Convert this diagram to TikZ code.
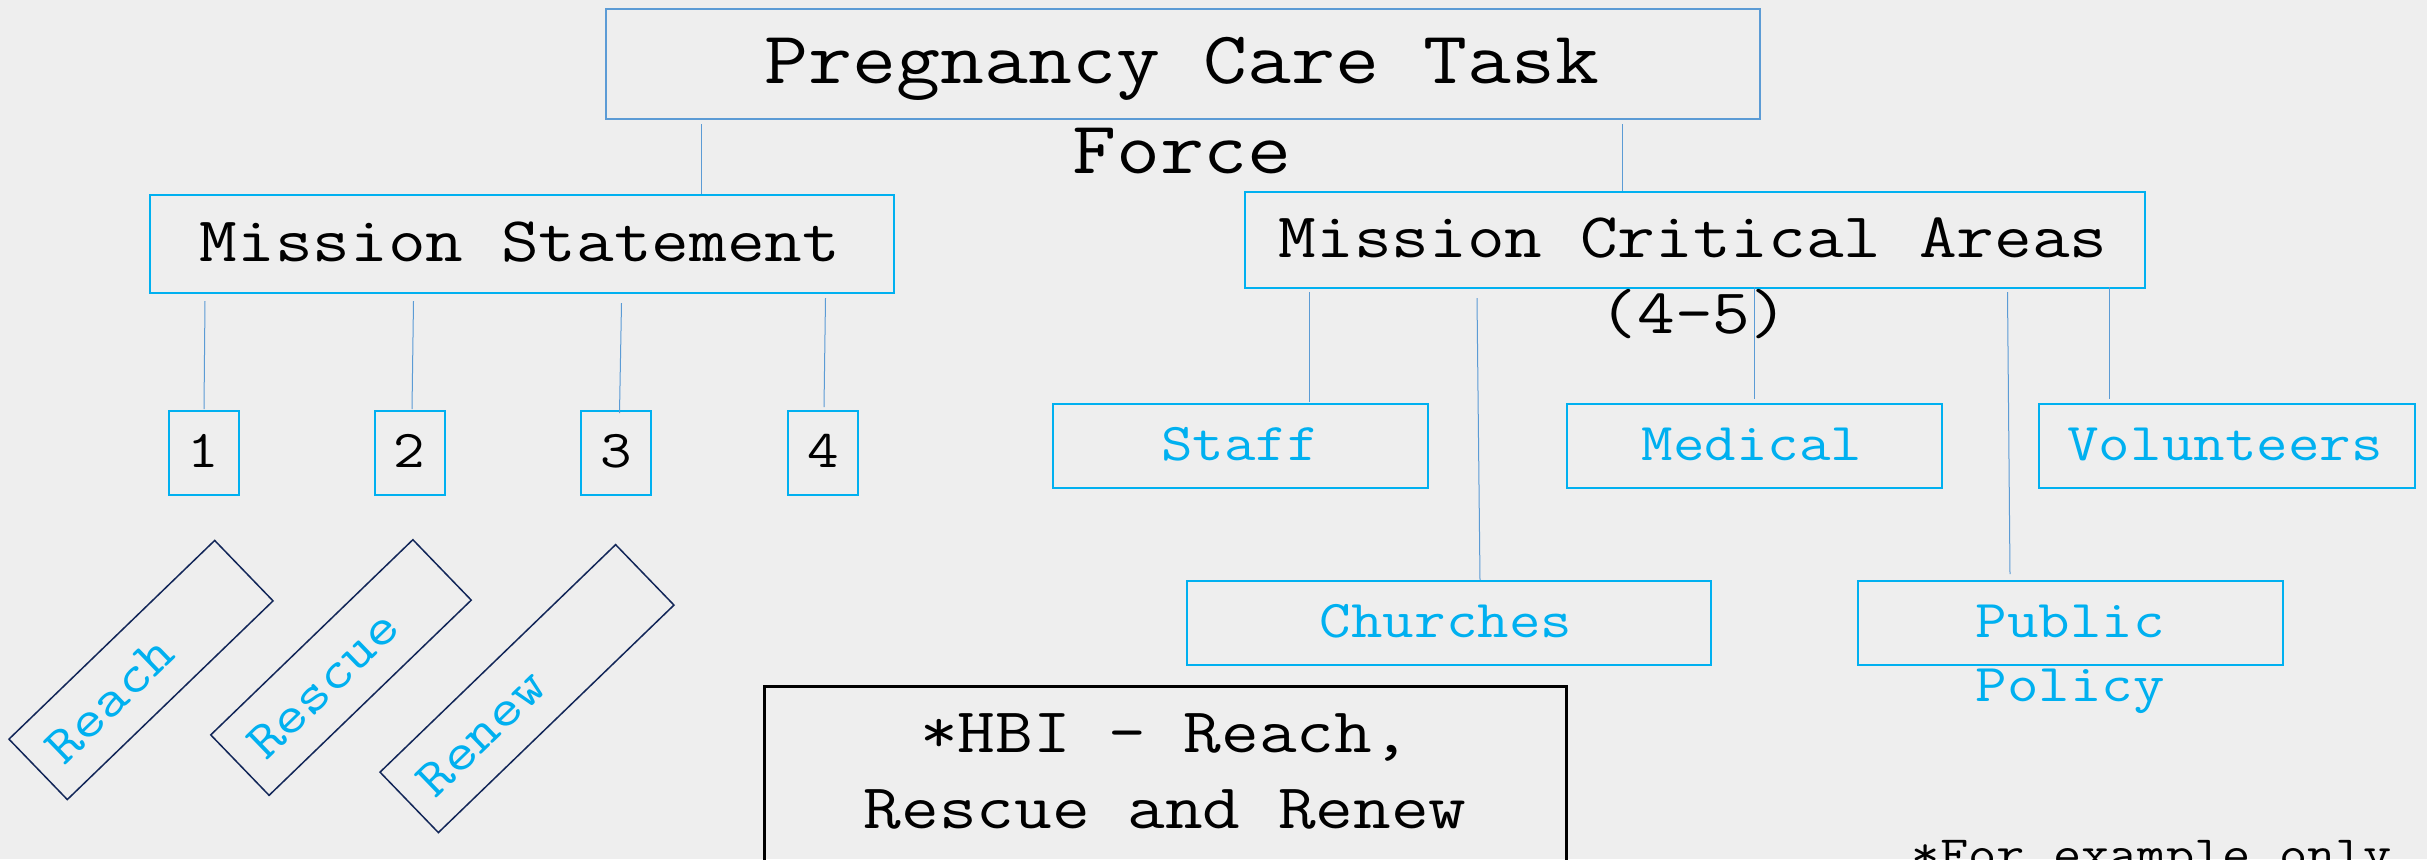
\documentclass[tikz,border=0pt]{standalone}
\usepackage{fontspec}
\newfontfamily\cf{Latin Modern Mono}[FakeStretch=1.15]
\usetikzlibrary{calc}
\definecolor{bgc}{HTML}{EEEEEE}
\definecolor{cyanc}{HTML}{00B0F0}
\definecolor{steel}{HTML}{5B9BD5}
\definecolor{navy}{RGB}{18,38,88}
\begin{document}
\begin{tikzpicture}[x=0.5pt,y=-0.5pt,
  box/.style={draw=cyanc, line width=1pt, inner sep=0pt, anchor=north west},
  conn/.style={draw=steel, line width=0.5pt},
  rotbox/.style={draw=navy, line width=0.75pt, rotate=44, minimum height=42pt,
     inner xsep=10.5pt, inner ysep=0pt, align=left, text=cyanc,
     font=\cf\fontsize{26.6pt}{32pt}\selectfont},
  txa/.style={inner sep=0pt, anchor=base, font=\cf\fontsize{37.1pt}{45pt}\selectfont},
  txb/.style={inner sep=0pt, anchor=base, font=\cf\fontsize{31.8pt}{38pt}\selectfont},
  txc/.style={inner sep=0pt, anchor=base, font=\cf\fontsize{26.6pt}{32pt}\selectfont},
  txd/.style={inner sep=0pt, anchor=base, font=\cf\fontsize{23.85pt}{28pt}\selectfont}]
\useasboundingbox (0,0) rectangle (2427,859);
\clip (0,0) rectangle (2427,859);
\fill[bgc] (0,0) rectangle (2427,859);

% boxes
\node[box, draw=steel, minimum width=577pt, minimum height=55pt] (title) at (605,8) {};
\node[box, minimum width=372pt, minimum height=49pt] (ms) at (149,194) {};
\node[box, minimum width=450pt, minimum height=48pt] (mca) at (1244,191) {};
\node[box, minimum width=35pt, minimum height=42pt] (b1) at (167.5,410) {};
\node[box, minimum width=35pt, minimum height=42pt] (b2) at (373.5,410) {};
\node[box, minimum width=35pt, minimum height=42pt] (b3) at (580,410) {};
\node[box, minimum width=35pt, minimum height=42pt] (b4) at (787,410) {};
\node[box, minimum width=187.5pt, minimum height=42pt] (staff) at (1052,403) {};
\node[box, minimum width=187.5pt, minimum height=42pt] (medical) at (1566,403) {};
\node[box, minimum width=188pt, minimum height=42pt] (volunteers) at (2038,403) {};
\node[box, minimum width=262pt, minimum height=42pt] (churches) at (1186,580) {};
\node[box, minimum width=212.5pt, minimum height=42pt] (public) at (1857,580) {};
\node[box, draw=black, line width=1.25pt, minimum width=401pt, minimum height=125pt] (hbi) at (763,685) {};

% rotated boxes
\node[rotbox, text width=122pt] (reach) at (141,670) {Reach};
\node[rotbox, text width=119.5pt] (rescue) at (341,667.5) {Rescue};
\node[rotbox, text width=142.75pt] (renew) at (527,688.6) {Renew};

% texts
\node[txa] (t1) at (1182,83) {Pregnancy Care Task};
\node[txa] (t2) at (1182,173) {Force};
\node[txb] (tms) at (520,261) {Mission Statement};
\node[txb] (tmca1) at (1693,257) {Mission Critical Areas};
\node[txb] (tmca2) at (1694,333) {(4-5)};
\node[txc] (n1) at (b1.center |- 0,467) {1};
\node[txc] (n2) at (b2.center |- 0,467) {2};
\node[txc] (n3) at (b3.center |- 0,467) {3};
\node[txc] (n4) at (b4.center |- 0,467) {4};
\node[txc, text=cyanc] (tstaff) at (1240,460) {Staff};
\node[txc, text=cyanc] (tmed) at (1752,460) {Medical};
\node[txc, text=cyanc] (tvol) at (2225,460) {Volunteers};
\node[txc, text=cyanc] (tchu) at (1446,637) {Churches};
\node[txc, text=cyanc] (tpub1) at (2070,637) {Public};
\node[txc, text=cyanc] (tpub2) at (2070,701) {Policy};
\node[txb] (th1) at (1165,752) {*HBI - Reach,};
\node[txb] (th2) at (1165,828) {Rescue and Renew};
\node[txd] (tex) at (2152,869) {*For example only};

% connectors
\draw[conn] ($(title.south)+(-482,4)$) -- ($(ms.north)+(179,0)$);
\draw[conn] ($(title.south)+(439,4)$) -- ($(mca.north)+(-73,0)$);
\draw[conn] ($(b1.north)+(1.5,-109)$) -- ($(b1.north)+(0.5,-1)$);
\draw[conn] ($(b2.north)+(4,-109)$) -- ($(b2.north)+(2.5,-1)$);
\draw[conn] ($(b3.north)+(5.5,-107)$) -- ($(b3.north)+(3.5,3)$);
\draw[conn] ($(b4.north)+(2.5,-112)$) -- ($(b4.north)+(1,-3)$);
\draw[conn] ($(staff.north)+(69,-111)$) -- ($(staff.north)+(69,-1)$);
\draw[conn] ($(churches.north)+(28,-282)$) -- ($(churches.north)+(31,0)$);
\draw[conn] ($(medical.north)+(0,-116)$) -- ($(medical.north)+(0,-4)$);
\draw[conn] ($(public.north)+(-63,-288)$) -- ($(public.north)+(-60.5,-6)$);
\draw[conn] ($(volunteers.north)+(-117.5,-116)$) -- ($(volunteers.north)+(-117.5,-4)$);
\end{tikzpicture}
\end{document}
